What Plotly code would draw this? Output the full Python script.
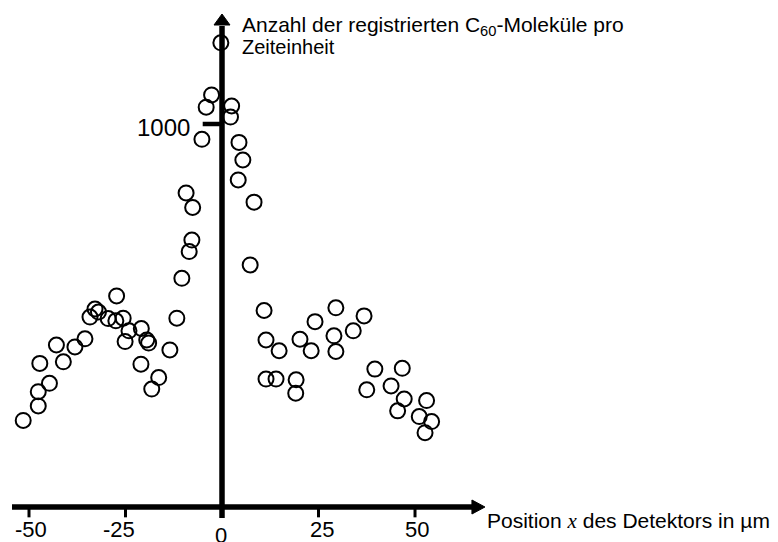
import plotly.graph_objects as go

# Detector position (µm) and counts per time unit
x_pos = [-51.5, -47.6, -47.6, -44.7, -47.2, -42.9, -41.1, -38.1, -35.5, -34.2,
         -32.9, -32.0, -29.5, -27.3, -27.5, -25.6, -25.1, -24.1, -20.9, -19.5,
         -19.0, -21.0, -18.2, -16.4, -13.5, -11.7, -10.4, -8.5, -7.8, -7.6,
         -9.3, -5.2, -4.1, -2.7, -0.3,
         2.5, 2.2, 4.4, 5.4, 4.2, 8.3, 7.3, 10.9, 11.4, 14.8,
         11.4, 14.0, 19.2, 19.1, 20.2, 23.1, 24.1, 29.5, 29.0, 29.5,
         34.0, 36.8, 39.6, 37.5, 43.8, 46.7, 47.2, 45.5, 53.0, 51.1,
         54.3, 52.6]
counts = [226, 264, 301, 323, 375, 423, 379, 418, 439, 496,
          517, 509, 492, 551, 486, 493, 432, 460, 466, 436,
          428, 373, 308, 338, 410, 493, 597, 667, 697, 782,
          820, 960, 1044, 1076, 1212,
          1047, 1018, 952, 906, 854, 796, 632, 513, 436, 408,
          334, 334, 332, 297, 438, 408, 484, 520, 447, 406,
          460, 499, 360, 306, 316, 362, 282, 251, 278, 236,
          223, 194]

x_ticks = [-50, -25, 0, 25, 50]
x_tick_labels = ["-50", "-25", "0", "25", "50"]
y_tick = 1000
y_tick_label = "1000"

# ranges compensate for the 8px page margin around the plot div
X_MIN, X_MAX = -55.44, 146.11
Y_MIN, Y_MAX = -112.27, 1302.87

fig = go.Figure()
fig.add_trace(go.Scatter(
    x=x_pos, y=counts, mode="markers",
    marker=dict(symbol="circle-open", size=15, color="black",
                line=dict(width=2, color="black")),
    showlegend=False, hoverinfo="skip", cliponaxis=False,
))

shapes = []
# x axis line
shapes.append(dict(type="line", xref="x", yref="y", x0=-54.4, y0=0, x1=65.5, y1=0,
                   line=dict(color="black", width=5.5)))
# y axis line
shapes.append(dict(type="line", xref="x", yref="y", x0=0, y0=-29, x1=0, y1=1256,
                   line=dict(color="black", width=5.5)))
# arrowheads
shapes.append(dict(type="path", xref="x", yref="y", xsizemode="pixel", ysizemode="pixel",
                   xanchor=67.6, yanchor=0, path="M2,0 L-11,7 L-11,-7 Z",
                   fillcolor="black", line=dict(color="black", width=1)))
shapes.append(dict(type="path", xref="x", yref="y", xsizemode="pixel", ysizemode="pixel",
                   xanchor=0, yanchor=1284.6, path="M0,1 L-8,-10 L8,-10 Z",
                   fillcolor="black", line=dict(color="black", width=1)))
# x ticks
for v in x_ticks:
    if v == 0:
        continue
    shapes.append(dict(type="line", xref="x", yref="y", x0=v, y0=0, x1=v, y1=-27,
                       line=dict(color="black", width=3)))
# y tick at 1000
shapes.append(dict(type="line", xref="x", yref="y", x0=-5.0, y0=y_tick, x1=0, y1=y_tick,
                   line=dict(color="black", width=4.5)))

font_main = "Liberation Sans, Arial, sans-serif"
annotations = []
shifts = {-50: 2, -25: -7, 0: -1.5, 25: 3, 50: 2}
for v, t in zip(x_ticks, x_tick_labels):
    annotations.append(dict(x=v, y=0, xref="x", yref="y", text=t, showarrow=False,
                            xanchor="center", yanchor="middle", xshift=shifts[v],
                            yshift=-28 if v == 0 else -22,
                            font=dict(family=font_main, size=22, color="black")))
annotations.append(dict(x=0, y=y_tick, xref="x", yref="y", text=y_tick_label, showarrow=False,
                        xanchor="right", yanchor="middle", xshift=-30, yshift=-3,
                        font=dict(family=font_main, size=24, color="black")))
annotations.append(dict(x=0, y=Y_MAX, xref="x", yref="y",
                        text="Anzahl der registrierten C<sub>60</sub>-Moleküle pro",
                        showarrow=False, xanchor="left", yanchor="top", xshift=18, yshift=-3,
                        font=dict(family=font_main, size=21, color="black")))
annotations.append(dict(x=0, y=Y_MAX, xref="x", yref="y", text="Zeiteinheit",
                        showarrow=False, xanchor="left", yanchor="top", xshift=18, yshift=-26,
                        font=dict(family=font_main, size=20, color="black")))
annotations.append(dict(x=67.6, y=0, xref="x", yref="y",
                        text="Position <span style=\"font-family:'Liberation Serif', 'Times New Roman', serif\"><i>x</i></span> des Detektors in µm",
                        showarrow=False, xanchor="left", yanchor="middle", xshift=2, yshift=-14,
                        font=dict(family=font_main, size=21, color="black")))

fig.update_layout(
    width=778, height=542, autosize=False,
    margin=dict(l=0, r=0, t=0, b=0),
    paper_bgcolor="white", plot_bgcolor="white",
    xaxis=dict(range=[X_MIN, X_MAX], visible=False, fixedrange=True),
    yaxis=dict(range=[Y_MIN, Y_MAX], visible=False, fixedrange=True),
    shapes=shapes, annotations=annotations,
)

fig.write_html("out.html")
